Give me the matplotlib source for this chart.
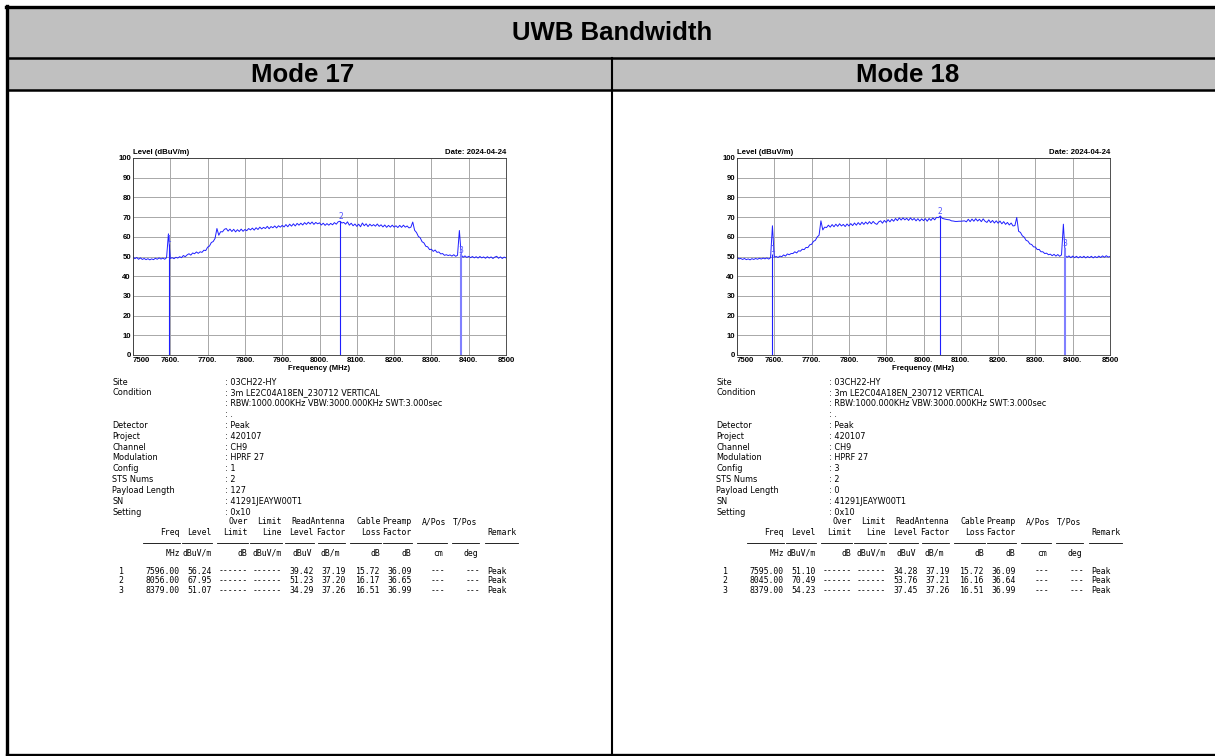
import numpy as np
import matplotlib
matplotlib.use('Agg')
import matplotlib.pyplot as plt
from matplotlib.lines import Line2D
from matplotlib.patches import Rectangle

# ---- data (5 MHz steps) ----
freqs = np.arange(7500, 8501, 5)

level17 = [
    49.8, 48.9, 49.5, 48.6, 49.3, 48.5, 49.0, 48.4, 48.9, 48.3,
    48.8, 48.4, 49.1, 48.6, 49.3, 48.7, 49.2, 48.6, 49.4, 61.5,
    49.0, 49.4, 48.9, 49.6, 49.2, 49.9, 49.4, 50.5, 49.9, 50.8,
    51.4, 50.7, 51.8, 51.4, 52.3, 51.6, 52.4, 52.1, 53.2, 53.0,
    54.7, 55.3, 57.1, 57.6, 59.2, 64.2, 60.8, 62.6, 62.5, 63.8,
    64.2, 62.9, 63.9, 62.7, 63.8, 62.5, 63.6, 62.7, 63.9, 62.8,
    63.7, 63.1, 64.2, 63.5, 64.4, 63.4, 64.6, 63.7, 64.9, 64.0,
    64.8, 64.2, 65.3, 64.1, 65.2, 64.6, 65.5, 64.5, 65.6, 64.9,
    65.8, 65.0, 66.2, 65.1, 66.4, 65.4, 66.6, 65.5, 66.8, 65.9,
    66.9, 66.0, 67.2, 66.3, 67.4, 66.5, 67.5, 66.3, 67.3, 66.6,
    67.1, 66.0, 66.9, 65.8, 66.7, 65.9, 66.8, 66.1, 67.2, 66.4,
    67.6, 67.9, 67.0, 67.3, 66.4, 67.6, 65.9, 66.9, 65.6, 66.5,
    65.3, 66.4, 65.1, 67.0, 65.6, 66.6, 65.2, 66.4, 65.5, 66.2,
    65.4, 66.5, 65.3, 66.1, 65.0, 66.0, 64.8, 65.8, 64.9, 65.9,
    64.9, 65.6, 64.7, 65.8, 64.8, 65.9, 64.9, 65.5, 64.5, 64.9,
    67.5, 63.3, 62.2, 60.2, 59.5, 57.5, 56.9, 55.2, 54.9, 53.5,
    53.7, 52.6, 53.3, 52.1, 52.3, 51.3, 51.5, 50.6, 50.9, 50.5,
    50.8, 50.2, 50.9, 50.1, 50.6, 63.2, 50.8, 49.6, 50.3, 49.5,
    50.1, 49.4, 50.0, 49.3, 49.9, 49.2, 50.0, 49.3, 49.8, 49.1,
    49.9, 49.2, 49.8, 49.0, 49.7, 50.1, 49.1, 49.8, 49.0, 49.7,
    49.3,
]

level18 = [
    49.6, 48.8, 49.0, 48.5, 49.0, 48.4, 48.8, 48.3, 48.9, 48.5,
    49.0, 48.6, 49.1, 48.7, 49.2, 48.8, 49.3, 48.7, 49.4, 65.6,
    49.6, 50.0, 49.5, 50.2, 49.9, 50.8, 50.2, 51.3, 50.9, 51.5,
    51.5, 52.4, 51.8, 52.9, 52.7, 53.7, 53.5, 54.6, 54.5, 55.9,
    56.2, 57.7, 58.2, 59.9, 60.8, 68.1, 63.5, 64.9, 64.7, 65.9,
    64.9, 66.2, 65.1, 66.4, 65.3, 66.6, 65.5, 66.3, 65.2, 66.5,
    65.5, 66.7, 65.7, 67.0, 65.9, 67.2, 66.1, 67.4, 66.3, 67.5,
    66.5, 67.7, 66.6, 67.8, 66.8, 66.3, 67.6, 68.1, 66.9, 68.3,
    67.3, 68.7, 67.6, 68.9, 67.9, 69.3, 68.2, 69.6, 68.5, 69.6,
    68.6, 69.4, 68.3, 69.6, 68.5, 69.3, 68.1, 69.2, 68.0, 69.1,
    68.2, 69.2, 67.9, 69.3, 68.3, 69.6, 68.6, 69.9, 69.7, 70.6,
    69.4, 69.1, 68.9, 68.7, 68.6, 68.1, 68.0, 67.8, 67.8, 67.9,
    67.9, 68.0, 68.1, 67.6, 68.9, 67.7, 69.0, 67.9, 69.2, 68.0,
    68.9, 67.7, 69.1, 67.9, 67.3, 68.6, 67.2, 68.3, 67.0, 68.1,
    66.9, 68.0, 66.6, 67.7, 66.3, 67.3, 66.0, 67.0, 65.5, 65.7,
    69.8, 62.8, 62.2, 60.5, 59.8, 58.2, 57.8, 56.4, 56.1, 54.9,
    54.8, 53.5, 53.6, 52.4, 52.4, 51.5, 51.7, 50.9, 51.2, 50.4,
    51.1, 50.2, 51.0, 50.1, 50.8, 66.4, 50.4, 49.6, 50.3, 49.4,
    50.2, 49.4, 50.1, 49.3, 50.0, 49.4, 50.1, 49.3, 50.0, 49.4,
    50.1, 49.3, 50.0, 49.4, 50.2, 49.5, 50.3, 49.6, 50.4, 49.7,
    50.0,
]

# marker table values
mk_freq17 = [7596.00, 8056.00, 8379.00]
mk_level17 = [56.24, 67.95, 51.07]
read17 = [39.42, 51.23, 34.29]
ant17 = [37.19, 37.20, 37.26]
cable17 = [15.72, 16.17, 16.51]
preamp17 = [36.09, 36.65, 36.99]

mk_freq18 = [7595.00, 8045.00, 8379.00]
mk_level18 = [51.10, 70.49, 54.23]
read18 = [34.28, 53.76, 37.45]
ant18 = [37.19, 37.21, 37.26]
cable18 = [15.72, 16.16, 16.51]
preamp18 = [36.09, 36.64, 36.99]

info_labels = ["Site", "Condition", "", "", "Detector", "Project", "Channel",
               "Modulation", "Config", "STS Nums", "Payload Length", "SN", "Setting"]
info17 = ["03CH22-HY", "3m LE2C04A18EN_230712 VERTICAL",
          "RBW:1000.000KHz VBW:3000.000KHz SWT:3.000sec", ".", "Peak", "420107",
          "CH9", "HPRF 27", "1", "2", "127", "41291JEAYW00T1", "0x10"]
info18 = ["03CH22-HY", "3m LE2C04A18EN_230712 VERTICAL",
          "RBW:1000.000KHz VBW:3000.000KHz SWT:3.000sec", ".", "Peak", "420107",
          "CH9", "HPRF 27", "3", "2", "0", "41291JEAYW00T1", "0x10"]

xtick_vals = np.arange(7500, 8501, 100)
xtick_labels = ["7500", "7600.", "7700.", "7800.", "7900.", "8000.",
                "8100.", "8200.", "8300.", "8400.", "8500"]

W, H = 1215, 756
fig = plt.figure(figsize=(W / 100, H / 100), dpi=100)


def fx(x):
    return x / W


def fy(y):
    return 1 - y / H


def hline(x0, x1, y, lw, color='black'):
    fig.add_artist(Line2D([fx(x0), fx(x1)], [fy(y), fy(y)], lw=lw, color=color))


def vline(x, y0, y1, lw, color='black'):
    fig.add_artist(Line2D([fx(x), fx(x)], [fy(y0), fy(y1)], lw=lw, color=color))


# ---- table frame ----
fig.add_artist(Rectangle((fx(8), fy(90)), fx(1215) - fx(8), (90 - 7) / H,
                         facecolor='#c0c0c0', edgecolor='none'))
hline(6, 1215, 6.5, 2.4)
vline(7, 5.5, 756, 2.4)
hline(7, 1215, 58, 1.8)
hline(7, 1215, 90, 1.8)
vline(611.5, 58, 756, 1.5)
hline(7, 1215, 754.5, 2.4)

title_kw = dict(fontsize=18.5, fontweight='bold', family='Liberation Sans',
                ha='center', va='center')
fig.text(fx(612), fy(33), "UWB Bandwidth", **title_kw)
fig.text(fx(303), fy(74.5), "Mode 17", **title_kw)
fig.text(fx(908), fy(74.5), "Mode 18", **title_kw)

blue = '#1f1fff'
col_right = [180.0, 211.7, 247.7, 281.7, 314.0, 345.3, 380.7, 411.7, 445.0, 480.0]
head_right = [180.0, 211.7, 247.7, 281.7, 314.0, 345.3, 380.7, 411.7, 446.7, 477.7]
line_start = [143.3, 181.7, 216.7, 250.0, 285.0, 318.3, 350.0, 383.3, 416.7, 451.7, 485.0]
line_end = [180.0, 211.7, 247.7, 281.7, 314.0, 345.3, 380.7, 411.7, 446.7, 479.3, 518.0]
unit_right = [180.0, 211.7, 247.7, 281.7, 311.7, 340.0, 380.0, 411.7, 443.3, 478.3]
units = ["MHz", "dBuV/m", "dB", "dBuV/m", "dBuV", "dB/m", "dB", "dB", "cm", "deg"]


def panel(dx, level, mk_f, mk_l, rd, ant, cab, pre, info):
    ax = fig.add_axes([fx(133 + dx), fy(355), 373 / W, 197 / H])
    ax.set_xlim(7500, 8500)
    ax.set_ylim(0, 100)
    ax.set_xticks(xtick_vals)
    ax.set_xticklabels(xtick_labels)
    ax.set_yticks(np.arange(0, 101, 10))
    ax.set_yticklabels([str(v) for v in range(0, 101, 10)])
    ax.tick_params(length=0, pad=1.5, labelsize=5.6)
    for lab in ax.get_xticklabels() + ax.get_yticklabels():
        lab.set_fontweight('bold')
        lab.set_family('Liberation Sans')
    ax.get_xticklabels()[0].set_ha('left')
    ax.grid(True, color='#a8a8a8', lw=0.7)
    ax.set_axisbelow(True)
    for s in ax.spines.values():
        s.set_linewidth(0.6)
        s.set_color('#333333')

    ax.plot(freqs, level, color=blue, lw=0.7)
    for i, (f, l) in enumerate(zip(mk_f, mk_l)):
        c = blue if i < 2 else '#8080ff'
        w = 0.8 if i < 2 else 1.5
        ax.vlines(f, 0, l, color=c, lw=w)
        ax.text(f, l + 2.2, str(i + 1), color='#5050ff', fontsize=5.5,
                ha='center', va='center')

    ax.set_xlabel("Frequency (MHz)", fontsize=5.6, fontweight='bold',
                  family='Liberation Sans', labelpad=1)
    ax.text(0, 1.008, "Level (dBuV/m)", transform=ax.transAxes, fontsize=5.6,
            fontweight='bold', family='Liberation Sans', ha='left', va='bottom')
    ax.text(1, 1.008, "Date: 2024-04-24", transform=ax.transAxes, fontsize=5.6,
            fontweight='bold', family='Liberation Sans', ha='right', va='bottom')

    # info block
    for i, (lab, val) in enumerate(zip(info_labels, info)):
        y = 382 + 10.85 * i
        if lab:
            fig.text(fx(112.3 + dx), fy(y), lab, fontsize=5.9, va='center')
        fig.text(fx(225 + dx), fy(y), ": " + val, fontsize=5.9, va='center')

    mono = dict(fontsize=5.9, family='DejaVu Sans Mono', va='center')
    head_a = ["", "", "Over", "Limit", "", "ReadAntenna", "Cable", "Preamp", "A/Pos", "T/Pos"]
    head_b = ["Freq", "Level", "Limit", "Line", "Level", "Factor", "Loss", "Factor", "", ""]
    for r, t in zip(head_right, head_a):
        if t:
            fig.text(fx(r + dx), fy(522), t, ha='right', **mono)
    for r, t in zip(head_right, head_b):
        if t:
            fig.text(fx(r + dx), fy(532.5), t, ha='right', **mono)
    fig.text(fx(487 + dx), fy(532.5), "Remark", ha='left', **mono)
    for x0, x1 in zip(line_start, line_end):
        hline(x0 + dx, x1 + dx, 542.5, 0.6)
    for r, t in zip(unit_right, units):
        fig.text(fx(r + dx), fy(553), t, ha='right', **mono)

    for i in range(len(mk_f)):
        y = 571 + 9.7 * i
        cells = [f"{mk_f[i]:.2f}", f"{mk_l[i]:.2f}", "------", "------",
                 f"{rd[i]:.2f}", f"{ant[i]:.2f}", f"{cab[i]:.2f}", f"{pre[i]:.2f}",
                 "---", "---"]
        fig.text(fx(121 + dx), fy(y), str(i + 1), ha='center', **mono)
        for r, t in zip(col_right, cells):
            fig.text(fx(r + dx), fy(y), t, ha='right', **mono)
        fig.text(fx(487 + dx), fy(y), "Peak", ha='left', **mono)


panel(0, level17, mk_freq17, mk_level17, read17, ant17, cable17, preamp17, info17)
panel(604, level18, mk_freq18, mk_level18, read18, ant18, cable18, preamp18, info18)

fig.savefig("out.png", dpi=100)
